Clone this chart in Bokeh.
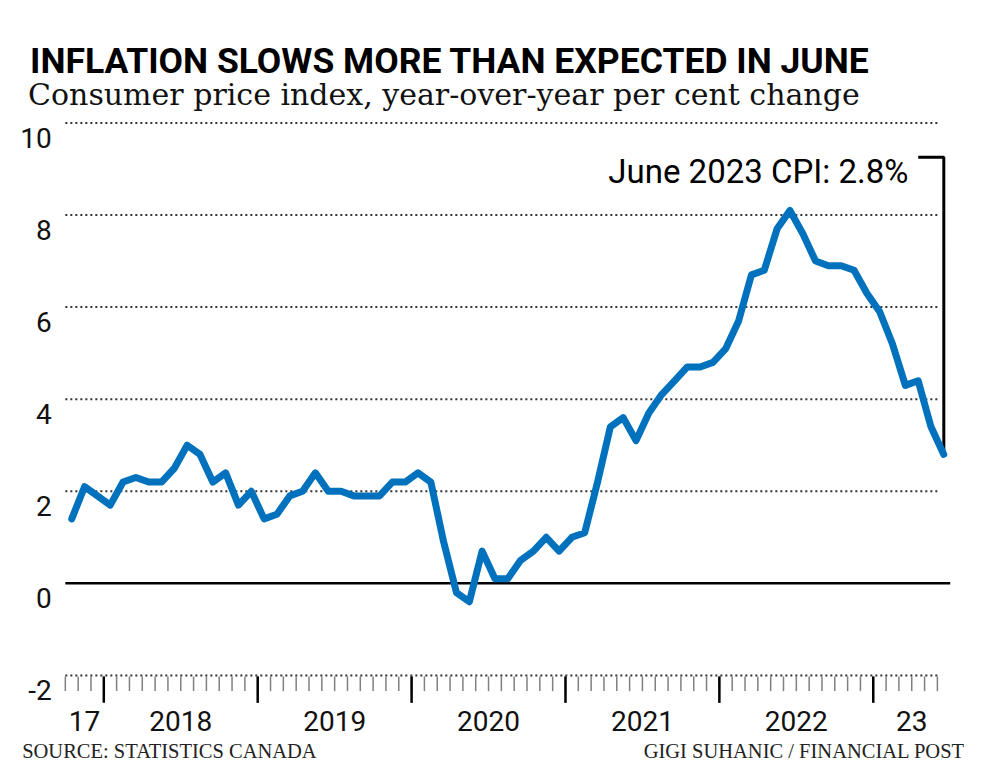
from bokeh.plotting import figure
from bokeh.models import Range1d, ColumnDataSource
from bokeh.core.properties import value
from bokeh.embed import file_html
from bokeh.resources import INLINE

# ---------------- data ----------------
months = (
    ["2017-10", "2017-11", "2017-12"]
    + [f"2018-{m:02d}" for m in range(1, 13)]
    + [f"2019-{m:02d}" for m in range(1, 13)]
    + [f"2020-{m:02d}" for m in range(1, 13)]
    + [f"2021-{m:02d}" for m in range(1, 13)]
    + [f"2022-{m:02d}" for m in range(1, 13)]
    + [f"2023-{m:02d}" for m in range(1, 7)]
)
cpi = [
    1.4, 2.1, 1.9,
    1.7, 2.2, 2.3, 2.2, 2.2, 2.5, 3.0, 2.8, 2.2, 2.4, 1.7, 2.0,
    1.4, 1.5, 1.9, 2.0, 2.4, 2.0, 2.0, 1.9, 1.9, 1.9, 2.2, 2.2,
    2.4, 2.2, 0.9, -0.2, -0.4, 0.7, 0.1, 0.1, 0.5, 0.7, 1.0, 0.7,
    1.0, 1.1, 2.2, 3.4, 3.6, 3.1, 3.7, 4.1, 4.4, 4.7, 4.7, 4.8,
    5.1, 5.7, 6.7, 6.8, 7.7, 8.1, 7.6, 7.0, 6.9, 6.9, 6.8, 6.3,
    5.9, 5.2, 4.3, 4.4, 3.4, 2.8,
]
y_ticks = [-2, 0, 2, 4, 6, 8, 10]
y_tick_labels = ["-2", "0", "2", "4", "6", "8", "10"]
years = ["2017", "2018", "2019", "2020", "2021", "2022", "2023"]
year_labels = ["17", "2018", "2019", "2020", "2021", "2022", "23"]

title_text = "INFLATION SLOWS MORE THAN EXPECTED IN JUNE"
subtitle_text = "Consumer price index, year-over-year per cent change"
source_text = "SOURCE: STATISTICS CANADA"
credit_text = "GIGI SUHANIC / FINANCIAL POST"
annot_text = f"June 2023 CPI: {cpi[-1]}%"

# ---------------- layout ----------------
W, H = 984, 768          # canvas size
REF_W, REF_H = 1000, 784  # design grid the layout is expressed in
X0 = 72.4                # design x of first month
PX_M = 13.033            # design px per month
Y0 = 595                 # design y of value 0
PX_U = 47                # design px per percentage point

def rx(px):
    return (px - X0) / PX_M

def ry(py):
    return (Y0 - py) / PX_U

xs = list(range(len(cpi)))
month_bounds = [i - 0.5 for i in xs]
year_bounds = [i - 0.5 for i, m in zip(xs, months) if m.endswith("-01")]
year_centers = []
for y in years:
    idx = [i for i, m in zip(xs, months) if m.startswith(y)]
    year_centers.append(sum(idx) / len(idx))

p = figure(
    width=W, height=H, output_backend="svg", toolbar_location=None,
    x_range=Range1d(rx(0), rx(REF_W)), y_range=Range1d(ry(REF_H), ry(0)),
    x_axis_location=None, y_axis_location=None, title=None,
    min_border=0, outline_line_color=None,
    background_fill_color="white", border_fill_color="white",
)
p.grid.visible = False

SANS = "Roboto"

GRID_END = rx(955)
grid_y = [t for t in y_ticks if t != 0]
p.segment(x0=[month_bounds[0]] * len(grid_y), x1=[GRID_END] * len(grid_y),
          y0=grid_y, y1=grid_y, line_color="#333333", line_width=2,
          line_dash="2 3")
# zero line
p.segment(x0=[month_bounds[0]], x1=[xs[-1] + 0.5], y0=[0], y1=[0],
          line_color="black", line_width=2.5)

# x ticks
bottom = y_ticks[0]
GAP = 1 / PX_U
MINOR_LEN = 15 / PX_U
MAJOR_LEN = 27 / PX_U
p.segment(x0=month_bounds, x1=month_bounds,
          y0=[bottom - GAP] * len(month_bounds),
          y1=[bottom - GAP - MINOR_LEN] * len(month_bounds),
          line_color="#808080", line_width=1.5)
p.segment(x0=year_bounds, x1=year_bounds,
          y0=[bottom - GAP] * len(year_bounds),
          y1=[bottom - GAP - MAJOR_LEN] * len(year_bounds),
          line_color="black", line_width=2.5)

# y tick labels (baseline a little below each gridline)
LBL_DROP = 15 / PX_U
p.text(x=[rx(52)] * len(y_ticks), y=[t - LBL_DROP for t in y_ticks],
       text=y_tick_labels, text_font=value(SANS),
       text_font_size=value("28px"), text_align="right",
       text_baseline="alphabetic", text_color="#111111")
# x labels
p.text(x=year_centers, y=[ry(735)] * len(year_centers), text=year_labels,
       text_font=value(SANS), text_font_size=value("28px"),
       text_align="center", text_baseline="alphabetic", text_color="#111111")

# annotation bracket
BRACKET_Y = ry(160)
BRACKET_LEFT = xs[-1] - 26 / PX_M
p.line(x=[BRACKET_LEFT, xs[-1], xs[-1]], y=[BRACKET_Y, BRACKET_Y, cpi[-1]],
       line_color="black", line_width=3)
p.text(x=[BRACKET_LEFT - 10 / PX_M], y=[BRACKET_Y - 15 / PX_U],
       text=[annot_text], text_font=value(SANS),
       text_font_size=value("33px"), text_align="right",
       text_baseline="alphabetic", text_color="black")

# CPI line
src = ColumnDataSource(dict(x=xs, cpi=cpi, month=months))
p.line(x="x", y="cpi", source=src, line_color="#0071BC", line_width=7,
       line_join="round", line_cap="round")

# titles
p.text(x=[rx(30)], y=[ry(62)], text=[title_text],
       text_font=value(SANS), text_font_style="bold",
       text_font_size=value("35.5px"), text_align="left",
       text_baseline="alphabetic", text_color="black")
p.text(x=[rx(28)], y=[ry(96)], text=[subtitle_text],
       text_font=value("DejaVu Serif"), text_font_size=value("30px"),
       text_align="left", text_baseline="alphabetic", text_color="#111111")
# source / credit
p.text(x=[rx(22)], y=[ry(766)], text=[source_text],
       text_font=value("Liberation Serif"), text_font_size=value("20.5px"),
       text_align="left", text_baseline="alphabetic", text_color="#222222")
p.text(x=[rx(980)], y=[ry(766)], text=[credit_text],
       text_font=value("Liberation Serif"), text_font_size=value("20.5px"),
       text_align="right", text_baseline="alphabetic", text_color="#222222")

open("out.html", "w").write(file_html(p, INLINE))
